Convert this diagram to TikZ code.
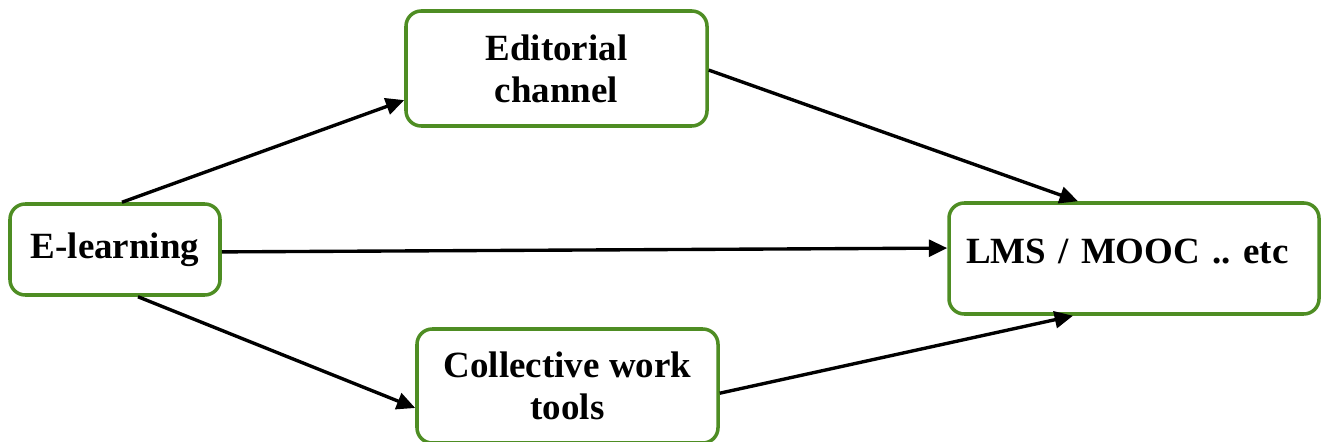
\documentclass[tikz,border=0pt]{standalone}
\usepackage{fontspec}
\setmainfont{Liberation Serif}
\usetikzlibrary{arrows.meta}
\definecolor{boxgreen}{RGB}{78,141,35}

\begin{document}
\begin{tikzpicture}[
    stagebox/.style={draw=boxgreen,line width=2.5pt,rounded corners=0.38cm,fill=white,
        font=\fontsize{26.3pt}{29.9pt}\selectfont\bfseries\frenchspacing,align=center,inner sep=0pt},
    flow/.style={line width=2.4pt,-{Triangle[length=0.46cm,width=0.42cm]}}]
    \useasboundingbox (0,0) rectangle (33.05,11.025);
    \node[stagebox,minimum width=5.25cm,minimum height=2.275cm] (elearn) at (2.875,4.7875) {E-learning};
    \node[stagebox,minimum width=7.525cm,minimum height=2.875cm] (edit) at (13.9125,9.3125) {Editorial\\channel};
    \node[stagebox,minimum width=7.525cm,minimum height=2.85cm] (coll) at (14.1875,1.375) {Collective work\\tools};
    \node[stagebox,minimum width=9.25cm,minimum height=2.775cm,inner xsep=0.425cm,
        text width=8.4cm,align=left,text depth=0.35cm] (lms) at (28.35,4.5625) {LMS / MOOC .. etc};
    % connectors
    \draw[flow] ([xshift=0.175cm]elearn.north) -- ([yshift=-0.79cm]edit.west);
    \draw[flow] ([yshift=-0.06cm]elearn.east) -- ([yshift=0.26cm]lms.west);
    \draw[flow] ([xshift=0.575cm]elearn.south) -- ([yshift=-0.55cm]coll.west);
    \draw[flow] ([yshift=-0.04cm]edit.east) -- ([xshift=-1.4cm]lms.north);
    \draw[flow] ([yshift=-0.18cm]coll.east) -- ([xshift=-1.525cm]lms.south);
\end{tikzpicture}
\end{document}
